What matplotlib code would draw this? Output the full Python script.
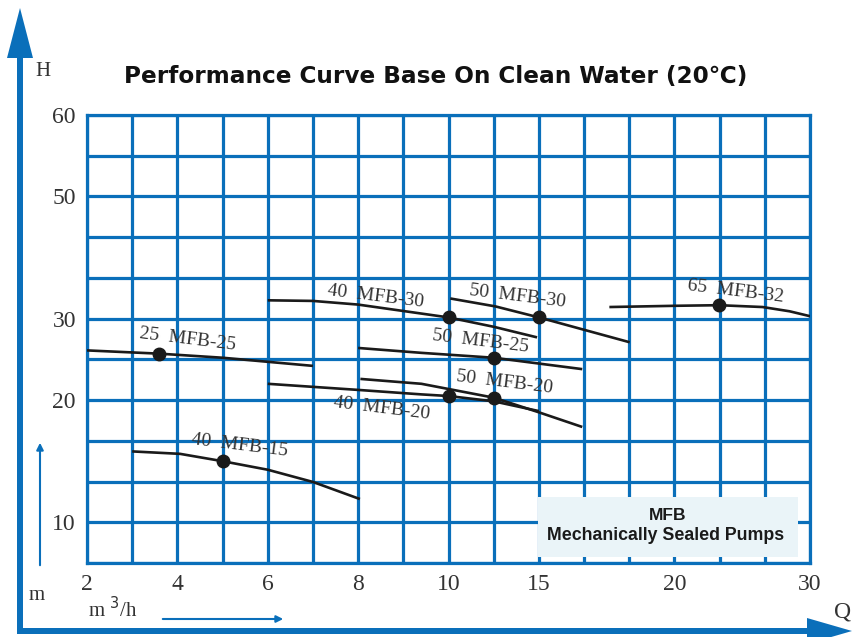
import numpy as np
import matplotlib.pyplot as plt
from matplotlib.patches import FancyArrow, Rectangle

# --- scale knots (tick value -> grid cell index) ---
q_ticks = [2, 4, 6, 8, 10, 15, 20, 30]
q_cells = [0, 2, 4, 6, 8, 10, 13, 16]
h_ticks = [10, 20, 30, 50, 60]
h_knots = [20 / 3, 10, 20, 30, 50, 60]
h_cells = [0, 1, 4, 6, 9, 11]

# --- pump curves (Q m3/h, H m) ---
q_25_25 = [2.0, 3.6, 5.0, 7.0]
h_25_25 = [26.1, 25.7, 25.2, 24.2]
dot_25_25 = (3.6, 25.7)

q_40_30 = [6.0, 7.0, 8.0, 10.0, 12.5, 14.9]
h_40_30 = [33.0, 32.9, 32.3, 30.2, 29.0, 27.7]
dot_40_30 = (10.0, 30.2)

q_50_30 = [10.1, 12.6, 15.0, 16.7, 18.35]
h_50_30 = [33.3, 32.0, 30.2, 28.6, 27.1]
dot_50_30 = (15.0, 30.2)

q_65_32 = [17.6, 20.0, 23.3, 26.5, 28.5, 30.0]
h_65_32 = [31.9, 32.1, 32.2, 31.9, 31.2, 30.4]
dot_65_32 = (23.3, 32.2)

q_50_25 = [8.0, 9.4, 12.5, 16.6]
h_50_25 = [26.4, 25.8, 25.2, 23.8]
dot_50_25 = (12.5, 25.2)

q_40_20 = [6.0, 8.0, 9.4, 10.0, 12.5, 15.0]
h_40_20 = [22.0, 21.25, 20.7, 20.5, 19.9, 19.1]
dot_40_20 = (10.0, 20.5)

q_50_20 = [8.05, 9.4, 12.5, 15.0, 16.6]
h_50_20 = [22.6, 22.0, 20.3, 19.0, 17.8]
dot_50_20 = (12.5, 20.3)

q_40_15 = [3.0, 4.06, 5.0, 6.0, 7.0, 8.04]
h_40_15 = [15.8, 15.6, 15.0, 14.3, 13.3, 11.9]
dot_40_15 = (5.0, 15.0)

labels = ['25  MFB-25', '40  MFB-30', '50  MFB-30', '65  MFB-32',
          '50  MFB-25', '50  MFB-20', '40  MFB-20', '40  MFB-15']
label_q = [4.23, 8.39, 13.8, 24.5, 11.8, 13.1, 8.53, 5.38]
label_h = [27.5, 33.7, 33.6, 34.4, 27.2, 22.2, 19.3, 16.3]

BLUE = '#0A6FBA'
serif = ['Liberation Serif', 'DejaVu Serif']


def q_fwd(q):
    return np.interp(q, q_ticks, q_cells)


def q_inv(c):
    return np.interp(c, q_cells, q_ticks)


def h_fwd(h):
    return np.interp(h, h_knots, h_cells)


def h_inv(c):
    return np.interp(c, h_cells, h_knots)


fig = plt.figure(figsize=(8.52, 6.37), dpi=100)

# overlay in pixel units for the outer axis arrows
over = fig.add_axes([0, 0, 1, 1])
over.set_xlim(0, 852)
over.set_ylim(637, 0)
over.axis('off')
over.add_patch(FancyArrow(20, 632, 0, -624, width=6, head_width=26, head_length=50,
                          length_includes_head=True, color=BLUE, lw=0))
over.add_patch(FancyArrow(17, 631, 835, 0, width=6, head_width=26, head_length=45,
                          length_includes_head=True, color=BLUE, lw=0))
over.annotate('', xy=(40, 440), xytext=(40, 568),
              arrowprops=dict(arrowstyle='-|>', color=BLUE, lw=1.5, mutation_scale=10))
over.annotate('', xy=(286, 619), xytext=(160, 619),
              arrowprops=dict(arrowstyle='-|>', color=BLUE, lw=1.5, mutation_scale=10))
over.text(43, 71, 'H', fontsize=15, family=serif, color='#333333', ha='center', va='center')
over.text(843, 612, 'Q', fontsize=17, family=serif, color='#333333', ha='center', va='center')
over.text(37, 595, 'm', fontsize=15, family=serif, color='#333333', ha='center', va='center')
over.text(88, 610, 'm $^{3}$/h', fontsize=15, family=serif, color='#333333', ha='left', va='center')
over.text(436, 76, 'Performance Curve Base On Clean Water (20℃)', fontsize=16.7,
          fontweight='bold', family=['DejaVu Sans'], color='#111111',
          ha='center', va='center')

ax = fig.add_axes([87 / 852, 74 / 637, 723 / 852, 448 / 637])
ax.set_xscale('function', functions=(q_fwd, q_inv))
ax.set_yscale('function', functions=(h_fwd, h_inv))
ax.set_xlim(2, 30)
ax.set_ylim(h_knots[0], 60)
ax.set_xticks(q_ticks)
ax.set_xticklabels([str(v) for v in q_ticks])
ax.set_yticks(h_ticks)
ax.set_yticklabels([str(v) for v in h_ticks])
ax.set_xticks(q_inv(np.arange(17)), minor=True)
ax.set_yticks(h_inv(np.arange(12)), minor=True)
ax.tick_params(which='both', length=0, labelsize=17, labelcolor='#333333', pad=8)
for lab in ax.get_xticklabels() + ax.get_yticklabels():
    lab.set_family(serif)
ax.grid(True, which='both', color=BLUE, lw=2.3)
for s in ax.spines.values():
    s.set_color(BLUE)
    s.set_linewidth(2.3)

curves = [(q_25_25, h_25_25, dot_25_25), (q_40_30, h_40_30, dot_40_30),
          (q_50_30, h_50_30, dot_50_30), (q_65_32, h_65_32, dot_65_32),
          (q_50_25, h_50_25, dot_50_25), (q_40_20, h_40_20, dot_40_20),
          (q_50_20, h_50_20, dot_50_20), (q_40_15, h_40_15, dot_40_15)]
for q, h, d in curves:
    ax.plot(q, h, color='#1a1a1a', lw=1.9, solid_capstyle='butt', zorder=3)
    ax.plot(*d, 'o', color='#1a1a1a', ms=9, zorder=4)

for t, x, y in zip(labels, label_q, label_h):
    ax.text(x, y, t, fontsize=14, family=serif, color='#333333', rotation=-7,
            ha='center', va='center', rotation_mode='anchor', zorder=5)

# info box
over.add_patch(Rectangle((538, 497), 260, 60, facecolor='#EAF4F8', edgecolor='none', zorder=5))
over.text(668, 516, 'MFB', fontsize=12.5, fontweight='bold', family=['Liberation Sans'],
          color='#1a1a1a', ha='center', va='center', zorder=6)
over.text(666, 536, 'Mechanically Sealed Pumps', fontsize=12.8, fontweight='bold',
          family=['Liberation Sans'], color='#1a1a1a', ha='center', va='center', zorder=6)
over.set_zorder(3)
over.patch.set_alpha(0)

fig.savefig('out.png', dpi=100)
